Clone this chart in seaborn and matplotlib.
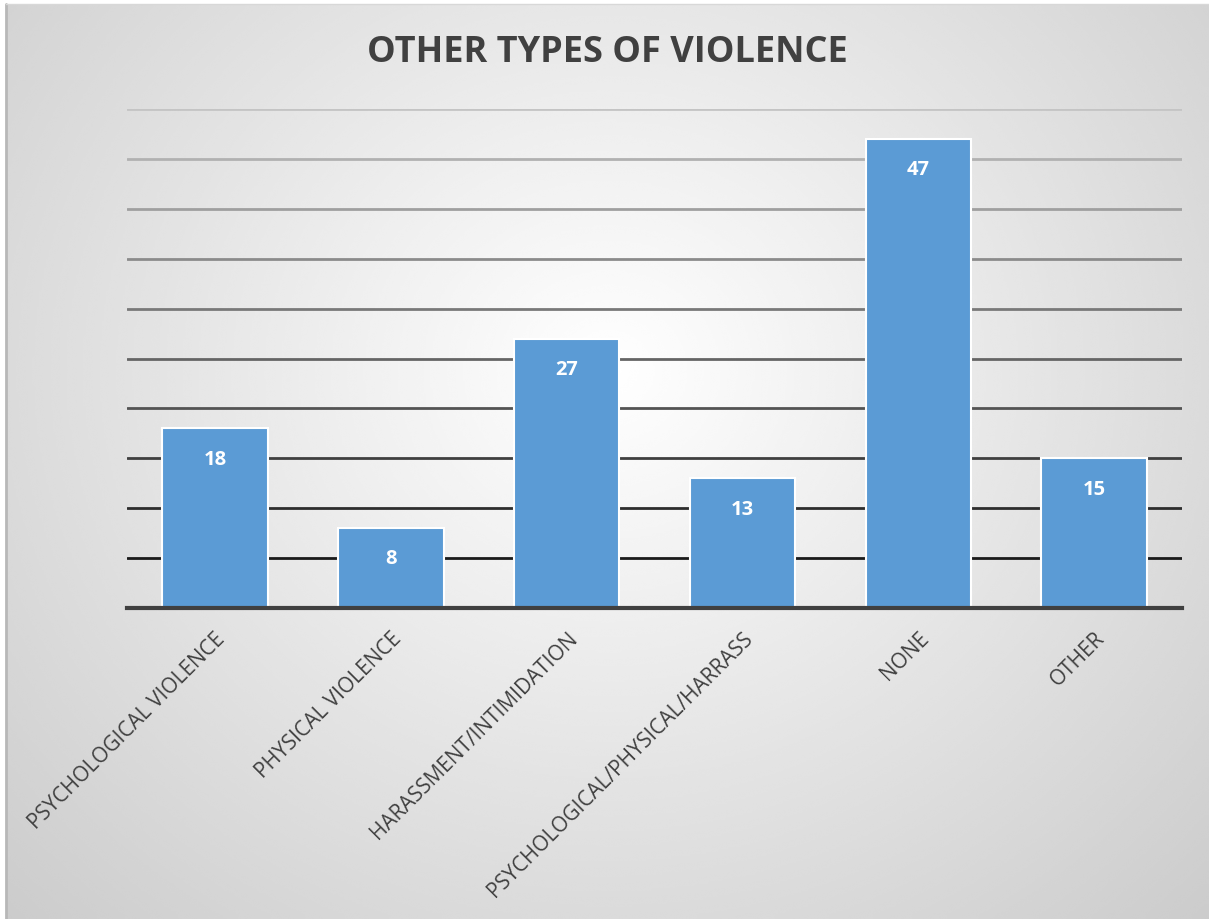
import numpy as np
import pandas as pd
import matplotlib
matplotlib.use("Agg")
import matplotlib.pyplot as plt
import seaborn as sns

categories = ["PSYCHOLOGICAL VIOLENCE", "PHYSICAL VIOLENCE", "HARASSMENT/INTIMIDATION",
              "PSYCHOLOGICAL/PHYSICAL/HARRASS", "NONE", "OTHER"]
counts = [18, 8, 27, 13, 47, 15]
grid_levels = [5, 10, 15, 20, 25, 30, 35, 40, 45, 50]

df = pd.DataFrame({"type": categories, "count": counts})

sns.set_theme(style="white")
plt.rcParams['font.family'] = ['Open Sans', 'DejaVu Sans']

W, H = 1209, 920
fig = plt.figure(figsize=(W / 100, H / 100), dpi=100)
fig.patch.set_facecolor("white")

# radial grey background like the office chart style
bg = fig.add_axes([6 / W, 0, 1 - 6 / W, 1 - 5 / H])
yy, xx = np.mgrid[0:400, 0:520]
cx, cy = 260, 160
r = np.sqrt(((xx - cx) / 350.0) ** 2 + ((yy - cy) / 320.0) ** 2)
shade = 1.0 - 0.22 * np.clip(r, 0, 1.15) / 1.15
bg.imshow(shade, cmap="gray", vmin=0, vmax=1, aspect="auto", interpolation="bicubic")
bg.set_axis_off()
fig.add_artist(plt.Line2D([6 / W, 6 / W], [0, 1 - 5 / H], color="#b8b8b8", lw=2))
fig.add_artist(plt.Line2D([6 / W, 1], [1 - 5 / H, 1 - 5 / H], color="#d8d8d8", lw=1))

ax = fig.add_axes([127 / W, (H - 609) / H, (1182 - 127) / W, (609 - 110) / H])
ax.patch.set_alpha(0)

grid_cols = sns.blend_palette(["#1a1a1a", "#c4c4c4"], n_colors=len(grid_levels))
for lv, c in zip(grid_levels, grid_cols):
    ax.axhline(lv, color=c, lw=2, zorder=0)

sns.barplot(data=df, x="type", y="count", color="#5b9bd5", width=0.6,
            edgecolor="white", linewidth=1.5, saturation=1, ax=ax, zorder=2)

ax.bar_label(ax.containers[0], padding=-29, color="white", fontsize=14.5,
             fontweight="bold")

ax.set_ylim(0, 50)
ax.set_xlim(-0.5, len(categories) - 0.5)
ax.set_yticks([])
ax.set_xlabel("")
ax.set_ylabel("")
for s in ["top", "right", "left"]:
    ax.spines[s].set_visible(False)
ax.spines["bottom"].set_color("#404040")
ax.spines["bottom"].set_linewidth(3)
ax.spines["bottom"].set_zorder(3)
ax.tick_params(axis="x", length=0, pad=14)
ax.set_xticks(range(len(categories)))
ax.set_xticklabels(categories, rotation=45, ha="right", rotation_mode="anchor",
                   fontsize=15, color="#404040")

fig.text(607 / W, 1 - 53 / H, "OTHER TYPES OF VIOLENCE", ha="center", va="center",
         fontsize=26, fontweight="bold", color="#404040")

fig.savefig("out.png", dpi=100)
